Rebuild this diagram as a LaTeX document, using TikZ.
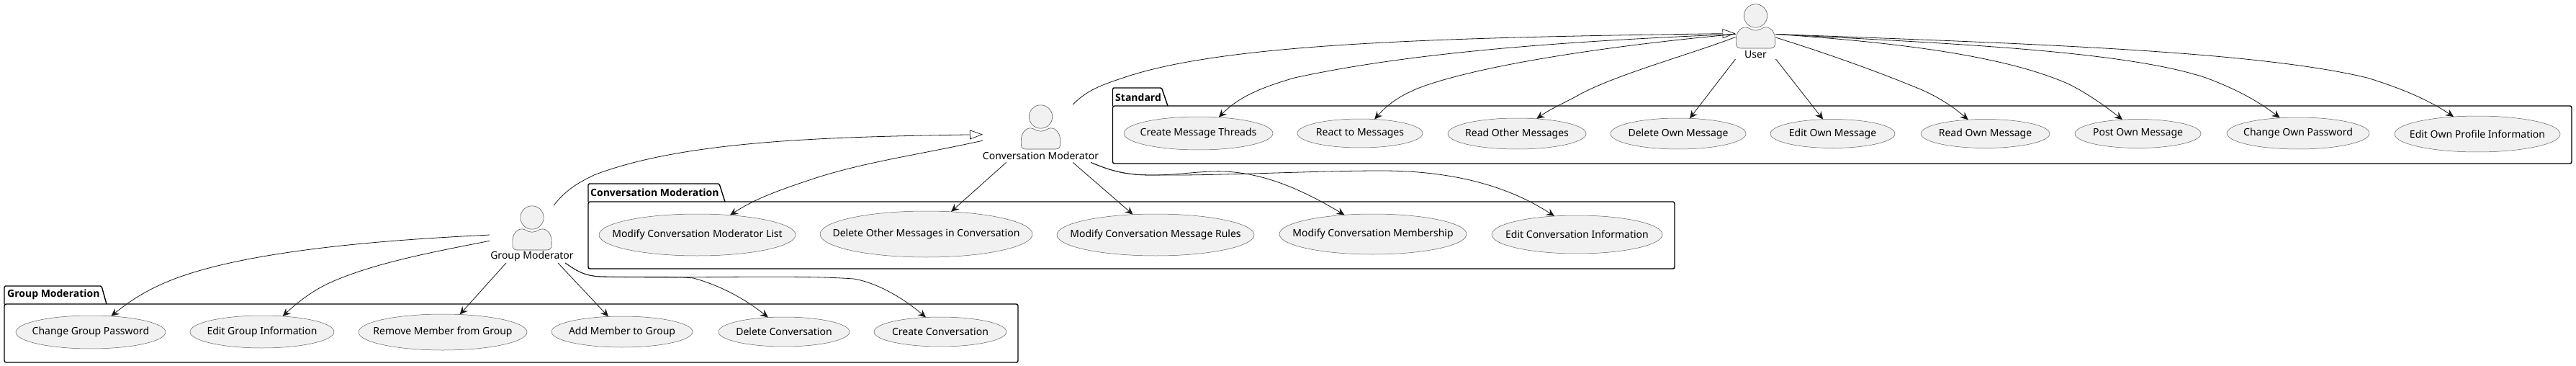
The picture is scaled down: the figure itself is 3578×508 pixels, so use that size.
\documentclass[tikz,border=0pt]{standalone}
\usepackage{fontspec}
\setmainfont{Noto Sans}
\newfontfamily\ttlfont{Open Sans}
\usetikzlibrary{shapes.geometric,arrows.meta}
\definecolor{ink}{HTML}{181818}
\definecolor{ucfill}{HTML}{F1F1F1}
\newcommand{\nb}[1]{\makebox[0pt]{#1}}
\tikzset{
  txt/.style={font=\fontsize{14}{16}\selectfont,text=black},
  uc/.style={ellipse,draw=ink!70,line width=0.5pt,fill=ucfill,inner sep=0pt,outer sep=0pt,txt},
  actorbox/.style={rectangle,inner sep=0pt,outer sep=0pt},
  actlabel/.style={inner sep=0pt,txt},
  ttl/.style={anchor=west,inner sep=0pt,font=\fontsize{14}{16}\selectfont\ttlfont\bfseries,text=black},
  arr/.style={draw=ink,line width=0.8pt,-{Stealth[length=11pt,width=10pt,inset=4pt]}},
  gen/.style={draw=ink,line width=0.8pt,-{Triangle[open,length=18pt,width=13pt,line width=0.7pt]}},
  pkg/.style={draw=black,line width=1.4pt,rounded corners=2.5pt},
  actorfig/.pic={
    \draw[draw=ink!70,fill=ucfill,line width=0.6pt] (0,0) circle[radius=16.2pt];
    \draw[draw=ink!70,fill=ucfill,line width=0.6pt]
      (-27.2,33) .. controls (-27.2,24) and (-22,16) .. (-14,15.8)
      .. controls (-9,16) and (-7,20) .. (0,20.2)
      .. controls (7,20) and (9,16) .. (14,15.8)
      .. controls (22,16) and (27.2,24) .. (27.2,33)
      -- (27.2,38) .. controls (27.2,42) and (25,45) .. (21,45)
      -- (-21,45) .. controls (-25,45) and (-27.2,42) .. (-27.2,38) -- cycle;
  }
}
\begin{document}
\begin{tikzpicture}[x=1pt,y=-1pt]
\useasboundingbox (0,0) rectangle (3578,508);
% packages
\draw[pkg] (6,422) rectangle (1414,503);
\draw[pkg,rounded corners=1.5pt] (6,422) -- (6,397) -- (141,397) -- (148,422);
\node[ttl] (tGroup) at (10,409) {Group Moderation};
\draw[pkg] (817,280) rectangle (2326,373);
\draw[pkg,rounded corners=1.5pt] (817,280) -- (817,255) -- (999,255) -- (1007,280);
\node[ttl] (tConv) at (820,267) {Conversation Moderation};
\draw[pkg] (1545.5,147) rectangle (3572,227);
\draw[pkg,rounded corners=1.5pt] (1545.5,147) -- (1545.5,122) -- (1613.5,122) -- (1622,147);
\node[ttl] (tStd) at (1549,135) {Standard};
% actors
\pic at (2438.5,22) {actorfig};
\pic at (1445.5,162) {actorfig};
\pic at (739,302) {actorfig};
\node[actorbox,minimum width=56pt,minimum height=77pt] (user) at (2438.5,43.5) {};
\node[actorbox,minimum width=161pt,minimum height=80.5pt] (conv) at (1445.5,185.25) {};
\node[actorbox,minimum width=118pt,minimum height=80pt] (grp) at (739,325) {};
\node[actlabel] (userL) at (2438.5,76) {User};
\node[actlabel] (convL) at (1445.5,216) {Conversation Moderator};
\node[actlabel] (grpL) at (739,356) {Group Moderator};
% standard use cases
\node[uc,minimum width=207pt,minimum height=46pt] (threads) at (1664.5,185) {\nb{Create Message Threads}};
\node[uc,minimum width=174pt,minimum height=40pt] (react) at (1889,185) {\nb{React to Messages}};
\node[uc,minimum width=192pt,minimum height=43pt] (readOther) at (2107,185.5) {\nb{Read Other Messages}};
\node[uc,minimum width=188pt,minimum height=43pt] (delOwn) at (2331,185.5) {\nb{Delete Own Message}};
\node[uc,minimum width=173pt,minimum height=40pt] (editOwn) at (2545.5,185.5) {\nb{Edit Own Message}};
\node[uc,minimum width=179pt,minimum height=40pt] (readOwn) at (2757.5,185.5) {\nb{Read Own Message}};
\node[uc,minimum width=175pt,minimum height=40pt] (postOwn) at (2969.5,185.5) {\nb{Post Own Message}};
\node[uc,minimum width=198pt,minimum height=44pt] (chgOwn) at (3192,185) {\nb{Change Own Password}};
\node[uc,minimum width=230pt,minimum height=50pt] (profile) at (3441,186) {\nb{Edit Own Profile Information}};
% conversation use cases
\node[uc,minimum width=273pt,minimum height=58pt] (modList) at (968.5,326) {\nb{Modify Conversation Moderator List}};
\node[uc,minimum width=295pt,minimum height=64pt] (delOther) at (1286.5,325) {\nb{Delete Other Messages in Conversation}};
\node[uc,minimum width=274pt,minimum height=58pt] (rules) at (1605,326) {\nb{Modify Conversation Message Rules}};
\node[uc,minimum width=260pt,minimum height=56pt] (member) at (1907,325) {\nb{Modify Conversation Membership}};
\node[uc,minimum width=237pt,minimum height=53pt] (editInfo) at (2190.5,325.5) {\nb{Edit Conversation Information}};
% group use cases
\node[uc,minimum width=208pt,minimum height=46pt] (chgGrp) at (126,461) {\nb{Change Group Password}};
\node[uc,minimum width=200pt,minimum height=45pt] (editGrp) at (364,460.5) {\nb{Edit Group Information}};
\node[uc,minimum width=234pt,minimum height=50pt] (remove) at (615,461) {\nb{Remove Member from Group}};
\node[uc,minimum width=196pt,minimum height=43pt] (addM) at (864,460.5) {\nb{Add Member to Group}};
\node[uc,minimum width=182pt,minimum height=41pt] (delConv) at (1089,460.5) {\nb{Delete Conversation}};
\node[uc,minimum width=184pt,minimum height=41pt] (newConv) at (1306,460.5) {\nb{Create Conversation}};
% generalisations
\draw[gen] (conv.42.8) .. controls (1510,125) and (1530,118) .. (1560,108) .. controls (1700,60) and (2000,52) .. (user.186.1);
\draw[gen] (grp.53.1) .. controls (785,265) and (800,255) .. (825,243) .. controls (950,195) and (1150,190) .. (conv.181.2);
% user edges
\draw[arr] (user.188.1) .. controls (2150,58) and (1950,75) .. (1798,108) .. controls (1750,122) and (1720,135) .. (threads.38.7);
\draw[arr] (user.188.1) .. controls (2270,60) and (2080,85) .. (1982,118) .. controls (1950,129) and (1930,142) .. (react.44);
\draw[arr] (user.196.9) .. controls (2340,78) and (2250,102) .. (2196,130) .. controls (2175,142) and (2155,150) .. (readOther.37.3);
\draw[arr] (user.south west) -- (delOwn.53.8);
\draw[arr] (user.south east) -- (editOwn.124.4);
\draw[arr] (user.343.1) .. controls (2540,75) and (2610,100) .. (2670,125) .. controls (2695,136) and (2715,150) .. (readOwn.141.1);
\draw[arr] (user.352.9) .. controls (2620,58) and (2780,75) .. (2874,117) .. controls (2900,130) and (2925,148) .. (postOwn.138);
\draw[arr] (user.352.9) .. controls (2700,60) and (2950,70) .. (3064,108) .. controls (3110,125) and (3140,143) .. (chgOwn.140.8);
\draw[arr] (user.352.9) .. controls (2800,60) and (3130,70) .. (3288,108) .. controls (3340,124) and (3375,140) .. (profile.144.9);
% conversation moderator edges
\draw[arr] (conv.187.6) .. controls (1280,214) and (1200,225) .. (1130,248) .. controls (1085,263) and (1050,275) .. (modList.31);
\draw[arr] (conv.220.9) -- (delOther.42);
\draw[arr] (conv.318.5) -- (rules.138.6);
\draw[arr] (conv.330.6) .. controls (1545,238) and (1565,243) .. (1600,243) .. controls (1640,243) and (1665,237) .. (1700,238) .. controls (1750,240) and (1800,258) .. (member.146);
\draw[arr] (conv.330.6) .. controls (1545,238) and (1565,243) .. (1600,243) .. controls (1700,244) and (1820,237) .. (1919,237) .. controls (2010,237) and (2090,255) .. (editInfo.141);
% group moderator edges
\draw[arr] (grp.181) .. controls (560,332) and (340,345) .. (230,392) .. controls (200,405) and (180,418) .. (chgGrp.38.3);
\draw[arr] (grp.189.6) .. controls (600,350) and (520,365) .. (459,392) .. controls (435,403) and (415,418) .. (editGrp.37.6);
\draw[arr] (grp.228) -- (remove.46.8);
\draw[arr] (grp.312) -- (addM.132);
\draw[arr] (grp.319) .. controls (800,375) and (810,383) .. (835,384) .. controls (880,385) and (930,383) .. (963,386) .. controls (1000,396) and (1035,415) .. (delConv.138);
\draw[arr] (grp.319) .. controls (800,375) and (810,383) .. (835,384) .. controls (950,387) and (1100,381) .. (1186,387) .. controls (1215,392) and (1250,410) .. (newConv.135.7);
\end{tikzpicture}
\end{document}
